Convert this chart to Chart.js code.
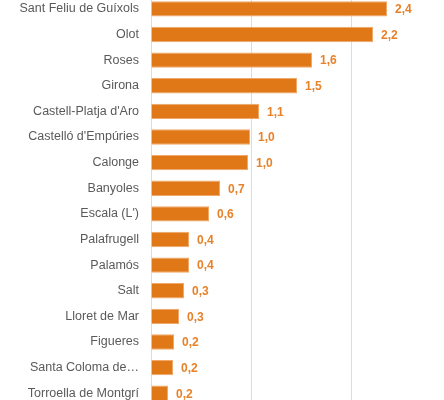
<!DOCTYPE html>
<html>
<head>
<meta charset="utf-8">
<script src="https://cdn.jsdelivr.net/npm/chart.js@4"></script>
<style>
  html, body { margin: 0; padding: 0; background: #fff; }
  #wrap { position: relative; width: 444px; height: 400px; overflow: hidden; }
  #wrap canvas { position: absolute; left: 0; top: -4px; }
</style>
</head>
<body>
<div id="wrap"><canvas id="barChart" width="470" height="410"></canvas></div>
<script>
var municipis = [
  'Sant Feliu de Guíxols', 'Olot', 'Roses', 'Girona', 'Castell-Platja d\'Aro',
  'Castelló d\'Empúries', 'Calonge', 'Banyoles', 'Escala (L\')', 'Palafrugell',
  'Palamós', 'Salt', 'Lloret de Mar', 'Figueres', 'Santa Coloma de Farners',
  'Torroella de Montgrí'
];
var valors = [2.36, 2.22, 1.61, 1.46, 1.08, 0.99, 0.97, 0.69, 0.58, 0.38, 0.38, 0.33, 0.28, 0.23, 0.22, 0.17];
var xTicks = [0, 1, 2, 3];

var barOrange = '#e07818';
var labelOrange = '#e8822a';

// draws the value next to each bar, with a decimal comma
var valueLabels = {
  id: 'valueLabels',
  afterDatasetsDraw: function(chart) {
    var ctx = chart.ctx;
    var meta = chart.getDatasetMeta(0);
    ctx.save();
    ctx.font = 'bold 12px "Liberation Sans", Arial, sans-serif';
    ctx.fillStyle = labelOrange;
    ctx.textAlign = 'left';
    ctx.textBaseline = 'middle';
    meta.data.forEach(function(bar, i) {
      var txt = valors[i].toFixed(1).replace('.', ',');
      ctx.fillText(txt, bar.x + 8, bar.y + 1);
    });
    ctx.restore();
  }
};

new Chart(document.getElementById('barChart').getContext('2d'), {
  type: 'bar',
  data: {
    labels: municipis,
    datasets: [{
      data: valors,
      backgroundColor: barOrange,
      borderColor: '#f0a868',
      borderWidth: 1,
      borderSkipped: 'left',
      categoryPercentage: 0.8,
      barPercentage: 0.75
    }]
  },
  options: {
    indexAxis: 'y',
    responsive: false,
    animation: false,
    layout: { autoPadding: false, padding: { top: 0, right: 19, bottom: 0, left: 0 } },
    plugins: {
      legend: { display: false },
      tooltip: { enabled: false }
    },
    scales: {
      x: {
        min: xTicks[0],
        max: xTicks[xTicks.length - 1],
        afterBuildTicks: function(scale) {
          scale.ticks = xTicks.map(function(v) { return { value: v }; });
        },
        afterFit: function(scale) { scale.height = 0; },
        ticks: { display: false },
        grid: { color: '#dcdcdc', lineWidth: 1, drawTicks: false },
        border: { display: false }
      },
      y: {
        afterFit: function(scale) {
          scale.width = 151;
          scale.paddingTop = 0;
          scale.paddingBottom = 0;
        },
        grid: { display: false, drawTicks: false },
        border: { display: true, color: '#dcdcdc' },
        ticks: {
          padding: 12,
          color: '#5a5a5a',
          font: { family: '"Liberation Sans", Arial, sans-serif', size: 12.5 },
          callback: function(value) {
            var name = this.getLabelForValue(value);
            return name.length > 21 ? name.slice(0, 15) + '…' : name;
          }
        }
      }
    }
  },
  plugins: [valueLabels]
});
</script>
</body>
</html>
